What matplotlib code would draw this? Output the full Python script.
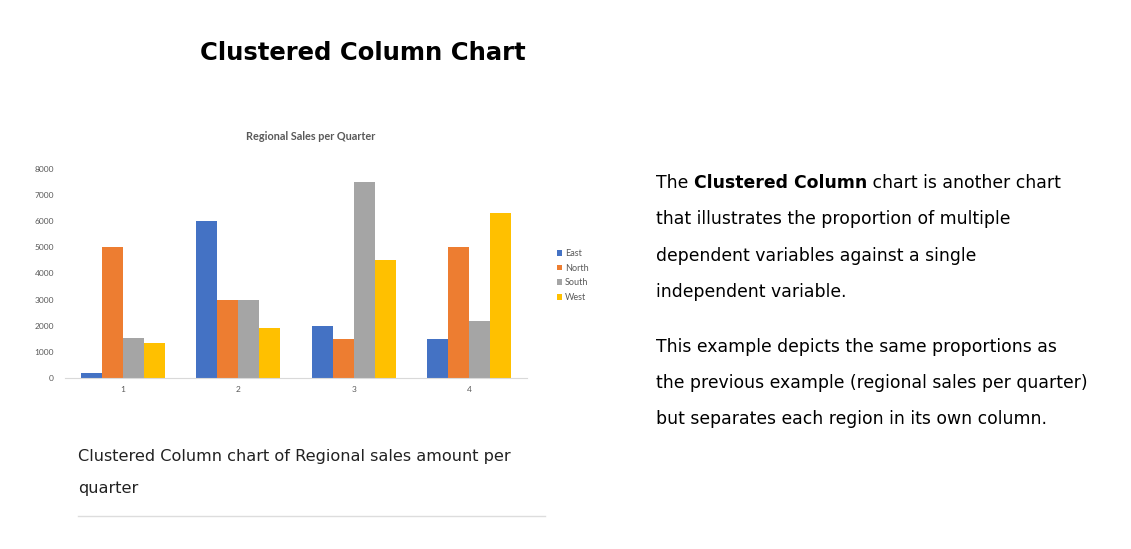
import matplotlib.pyplot as plt
import numpy as np

# Data
quarters = ['1', '2', '3', '4']
regions = ['East', 'North', 'South', 'West']
east = [200, 6000, 2000, 1500]
north = [5000, 3000, 1500, 5000]
south = [1550, 3000, 7500, 2200]
west = [1350, 1900, 4500, 6300]
colors = ['#4472c4', '#ed7d31', '#a5a5a5', '#ffc000']

W, H = 1131, 549
fig = plt.figure(figsize=(W / 100, H / 100), dpi=100)
plt.rcParams['font.family'] = ['Lato', 'DejaVu Sans']
body = 'DejaVu Sans'


def fx(px):
    return px / W


def fy(py):
    return 1 - py / H


# Page title
fig.text(fx(363), fy(53), 'Clustered Column Chart', ha='center', va='center',
         fontsize=17.5, fontweight='bold', color='black', family=body)

# Chart
ax = fig.add_axes([fx(65), fy(378), fx(527) - fx(65), fy(169) - fy(378)])
x = np.arange(len(quarters))
bw = 0.182
for i, (name, vals) in enumerate(zip(regions, [east, north, south, west])):
    ax.bar(x + (i - 1.5) * bw, vals, bw, color=colors[i], label=name)

ax.set_xlim(-0.5, 3.5)
ax.set_ylim(0, 8000)
ax.set_yticks(range(0, 8001, 1000))
ax.set_xticks(x)
ax.set_xticklabels(quarters)
ax.tick_params(length=0, labelsize=6, labelcolor='#595959')
ax.tick_params(axis='y', pad=8)
ax.tick_params(axis='x', pad=6)
for s in ['top', 'right', 'left']:
    ax.spines[s].set_visible(False)
ax.spines['bottom'].set_color('#d9d9d9')
ax.spines['bottom'].set_linewidth(0.8)

fig.text(fx(311), fy(137), 'Regional Sales per Quarter', ha='center', va='center',
         fontsize=7.8, fontweight='bold', color='#595959')

axw = fx(527) - fx(65)
leg = ax.legend(loc='center left', bbox_to_anchor=((fx(553) - fx(65)) / axw, 0.49),
                frameon=False, fontsize=6.5, handlelength=0.55, handleheight=0.55,
                labelspacing=0.62, handletextpad=0.4, borderaxespad=0)
for t in leg.get_texts():
    t.set_color('#595959')

# Caption
fig.text(fx(78), fy(457), 'Clustered Column chart of Regional sales amount per',
         ha='left', va='center', fontsize=11.6, color='#222222', family=body)
fig.text(fx(78), fy(489), 'quarter', ha='left', va='center', fontsize=11.6,
         color='#222222', family=body)
fig.add_artist(plt.Line2D([fx(78), fx(545)], [fy(516), fy(516)], color='#dddddd', lw=1))

# Right-hand description
renderer = fig.canvas.get_renderer()
parts = [('The ', 'normal'), ('Clustered Column', 'bold'), (' chart is another chart', 'normal')]
xpos = fx(656)
for txt, wt in parts:
    t = fig.text(xpos, fy(183), txt, ha='left', va='center', fontsize=12.4,
                 fontweight=wt, color='black', family=body)
    bb = t.get_window_extent(renderer)
    xpos += bb.width / W

lines = [(219, 'that illustrates the proportion of multiple'),
         (256, 'dependent variables against a single'),
         (292, 'independent variable.'),
         (347, 'This example depicts the same proportions as'),
         (383, 'the previous example (regional sales per quarter)'),
         (419, 'but separates each region in its own column.')]
for py, txt in lines:
    fig.text(fx(656), fy(py), txt, ha='left', va='center', fontsize=12.4,
             color='black', family=body)

fig.savefig('out.png', dpi=100)
